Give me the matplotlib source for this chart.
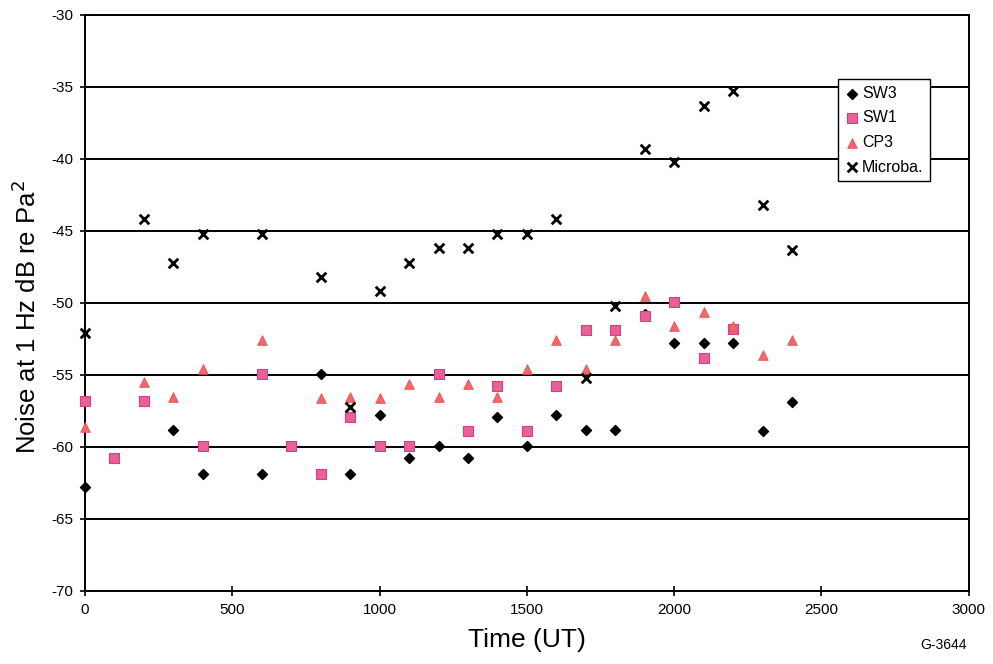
import matplotlib.pyplot as plt
from matplotlib.ticker import MultipleLocator

plt.rcParams['font.family'] = ['Liberation Sans', 'DejaVu Sans']
plt.rcParams['axes.unicode_minus'] = False

# hour of day (UT) and noise level per sensor
sw3_t = [0, 200, 300, 400, 600, 800, 900, 1000, 1100, 1200, 1300, 1400,
         1500, 1600, 1700, 1800, 1900, 2000, 2100, 2200, 2300, 2400]
sw3_db = [-62.8, -56.8, -58.8, -61.9, -61.9, -54.9, -61.9, -57.8, -60.8, -59.9,
          -60.8, -57.9, -59.9, -57.8, -58.8, -58.8, -50.8, -52.8, -52.8, -52.8,
          -58.9, -56.9]

sw1_t = [0, 100, 200, 400, 600, 700, 800, 900, 1000, 1100, 1200, 1300,
         1400, 1500, 1600, 1700, 1800, 1900, 2000, 2100, 2200]
sw1_db = [-56.8, -60.8, -56.8, -59.9, -54.9, -59.9, -61.9, -57.9, -59.9, -59.9,
          -54.9, -58.9, -55.8, -58.9, -55.8, -51.9, -51.9, -50.9, -49.9, -53.8,
          -51.8]

cp3_t = [0, 200, 300, 400, 600, 800, 900, 1000, 1100, 1200, 1300, 1400,
         1500, 1600, 1700, 1800, 1900, 2000, 2100, 2200, 2300, 2400]
cp3_db = [-58.6, -55.5, -56.5, -54.6, -52.6, -56.6, -56.5, -56.6, -55.6, -56.5,
          -55.6, -56.5, -54.6, -52.6, -54.6, -52.6, -49.5, -51.6, -50.6, -51.6,
          -53.6, -52.6]

mic_t = [0, 200, 300, 400, 600, 800, 900, 1000, 1100, 1200, 1300, 1400,
         1500, 1600, 1700, 1800, 1900, 2000, 2100, 2200, 2300, 2400]
mic_db = [-52.1, -44.2, -47.2, -45.2, -45.2, -48.2, -57.2, -49.2, -47.2, -46.2,
          -46.2, -45.2, -45.2, -44.2, -55.2, -50.2, -39.3, -40.2, -36.3, -35.3,
          -43.2, -46.3]

fig = plt.figure(figsize=(9.93, 6.64), dpi=100)
ax = fig.add_axes([0.0856, 0.110, 0.890, 0.8675])

ax.scatter(sw3_t, sw3_db, marker='D', s=26, color='black', label='SW3', zorder=3, clip_on=False)
ax.scatter(sw1_t, sw1_db, marker='s', s=48, color='#e8609a', edgecolors='#d8407a',
           linewidths=0.8, label='SW1', zorder=4, clip_on=False)
ax.scatter(cp3_t, cp3_db, marker='^', s=48, color='#f06868', edgecolors='#e85058',
           linewidths=0.6, label='CP3', zorder=5, clip_on=False)
ax.scatter(mic_t, mic_db, marker='x', s=48, color='black', linewidths=2.0,
           label='Microba.', zorder=6, clip_on=False)

ax.set_xlim(0, 3000)
ax.set_ylim(-70, -30)
ax.xaxis.set_major_locator(MultipleLocator(500))
ax.yaxis.set_major_locator(MultipleLocator(5))
ax.grid(axis='y', color='black', linewidth=1.4, zorder=1)
ax.set_axisbelow(True)
for side in ax.spines.values():
    side.set_linewidth(1.4)
ax.tick_params(direction='inout', length=7, width=1.2, labelsize=11, pad=5)

ax.set_xlabel('Time (UT)', fontsize=19, labelpad=8)
ax.set_ylabel('Noise at 1 Hz dB re Pa$^2$', fontsize=18.5)
ax.yaxis.set_label_coords(-0.050, 0.475)

leg = ax.legend(loc='upper left', bbox_to_anchor=(0.852, 0.888), fontsize=11.5,
                frameon=True, fancybox=False, edgecolor='black', framealpha=1,
                handletextpad=0.1, borderpad=0.4, labelspacing=0.6,
                handlelength=1.0, borderaxespad=0)
leg.get_frame().set_linewidth(1.0)

fig.text(0.950, 0.018, 'G-3644', fontsize=10, ha='center', va='bottom')

fig.savefig('out.png', dpi=100)
